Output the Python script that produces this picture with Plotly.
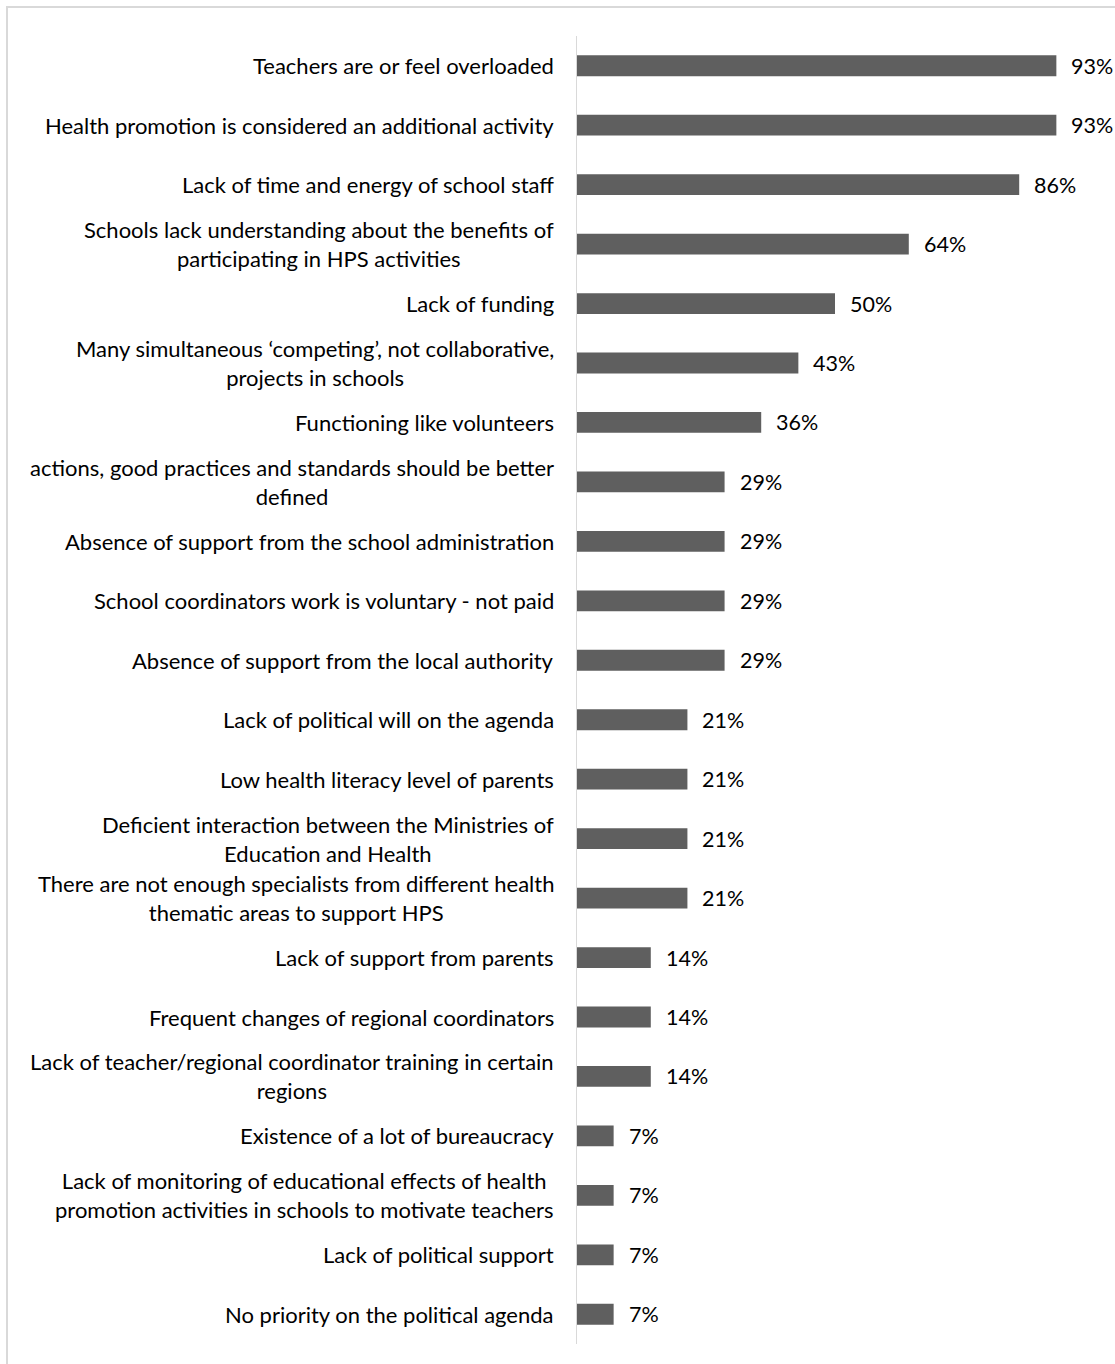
import plotly.graph_objects as go

categories = [
    "Teachers are or feel overloaded",
    "Health promotion is considered an additional activity",
    "Lack of time and energy of school staff",
    "Schools lack understanding about the benefits of<br>participating in HPS activities",
    "Lack of funding",
    "Many simultaneous ‘competing’, not collaborative,<br>projects in schools",
    "Functioning like volunteers",
    "actions, good practices and standards should be better<br>defined",
    "Absence of support from the school administration",
    "School coordinators work is voluntary - not paid",
    "Absence of support from the local authority",
    "Lack of political will on the agenda",
    "Low health literacy level of parents",
    "Deficient interaction between the Ministries of<br>Education and Health",
    "There are not enough specialists from different health<br>thematic areas to support HPS",
    "Lack of support from parents",
    "Frequent changes of regional coordinators",
    "Lack of teacher/regional coordinator training in certain<br>regions",
    "Existence of a lot of bureaucracy",
    "Lack of monitoring of educational effects of health<br>promotion activities in schools to motivate teachers",
    "Lack of political support",
    "No priority on the political agenda",
]
values = [92.9, 92.9, 85.7, 64.3, 50.0, 42.9, 35.7, 28.6, 28.6, 28.6, 28.6,
          21.4, 21.4, 21.4, 21.4, 14.3, 14.3, 14.3, 7.1, 7.1, 7.1, 7.1]
value_labels = ["93%", "93%", "86%", "64%", "50%", "43%", "36%", "29%", "29%", "29%", "29%",
                "21%", "21%", "21%", "21%", "14%", "14%", "14%", "7%", "7%", "7%", "7%"]

W, H = 1115, 1364
ML, MT, MB = 577, 36, 20
PW = 516
MR = W - ML - PW
FONT = "Lato"
FS = 22

ids = list(range(len(categories)))

fig = go.Figure()
fig.add_trace(go.Bar(
    x=values, y=ids, orientation="h",
    marker=dict(color="#5f5f5f", line=dict(width=0)),
    width=0.35,
    hoverinfo="skip",
))

for i, c in enumerate(categories):
    fig.add_annotation(
        x=0, y=i, xref="x", yref="y", text=c, showarrow=False,
        xanchor="right", yanchor="middle", align="center", xshift=-21,
        font=dict(family=FONT, size=FS, color="#000000"),
    )

for i, (v, lab) in enumerate(zip(values, value_labels)):
    fig.add_annotation(
        x=v, y=i, xref="x", yref="y", text=lab, showarrow=False,
        xanchor="left", yanchor="middle", xshift=13,
        font=dict(family=FONT, size=FS - 0.5, color="#000000"),
    )

PH = H - MT - MB
fig.add_shape(
    type="rect", xref="paper", yref="paper",
    x0=(7 - ML) / PW, x1=(W + 10 - ML) / PW,
    y0=1 - (H + 10 - MT) / PH, y1=1 + (MT - 7) / PH,
    line=dict(color="#d9d9d9", width=2), fillcolor="rgba(0,0,0,0)", layer="below",
)

fig.update_layout(
    width=W, height=H,
    margin=dict(l=ML, r=MR, t=MT, b=MB),
    paper_bgcolor="white", plot_bgcolor="white",
    showlegend=False,
    xaxis=dict(range=[0, 100], visible=False, showgrid=False, zeroline=False),
    yaxis=dict(range=[len(categories) - 0.5, -0.5], showticklabels=False,
               showgrid=False, zeroline=False, showline=True,
               linecolor="#d9d9d9", linewidth=1, ticks=""),
)

fig.write_html("out.html")
